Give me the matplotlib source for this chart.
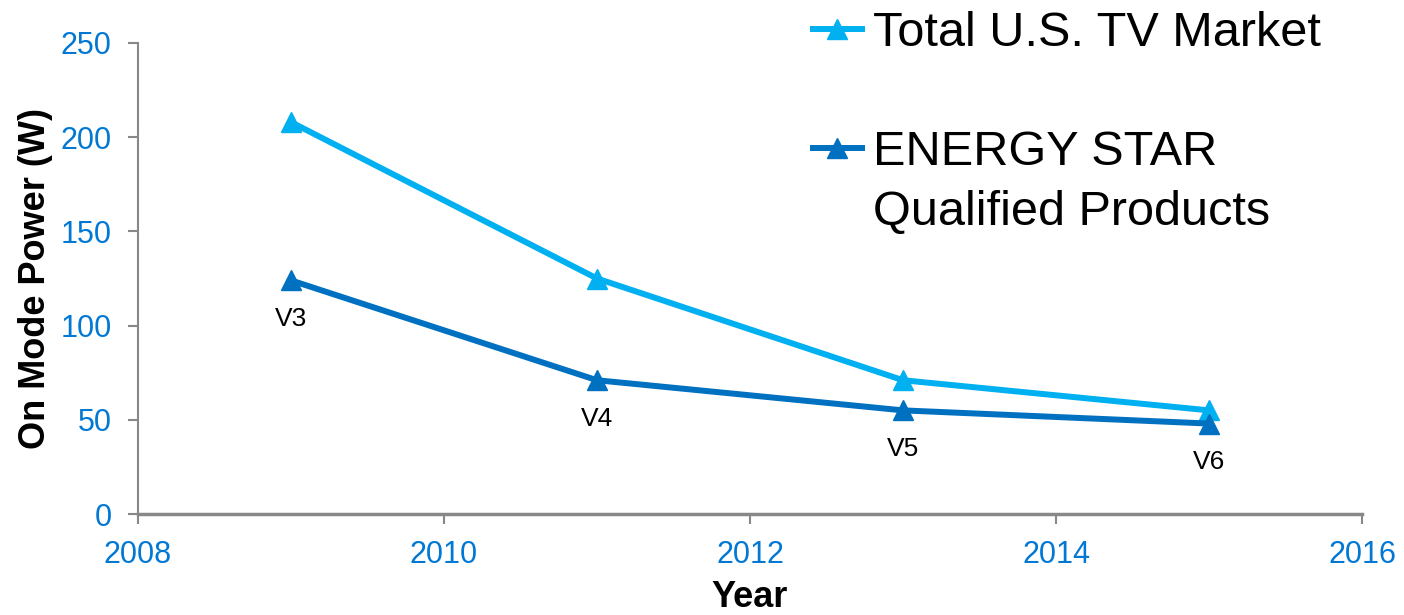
import matplotlib.pyplot as plt
from matplotlib.lines import Line2D

plt.rcParams['font.family'] = ['Liberation Sans', 'DejaVu Sans']

# data
years = [2009, 2011, 2013, 2015]
total_market = [208, 125, 71, 55]
energy_star = [124, 71, 55, 48]
spec_labels = ['V3', 'V4', 'V5', 'V6']

light_blue = '#00B0F0'
dark_blue = '#0070C0'
tick_blue = '#0078D4'

fig = plt.figure(figsize=(14.04, 6.15), dpi=100)
ax = fig.add_axes([138 / 1404, 1 - 514 / 615, (1362 - 138) / 1404, (514 - 43) / 615])

l1, = ax.plot(years, total_market, color=light_blue, linewidth=4.3,
              marker='^', markersize=14, label='Total U.S. TV Market')
l2, = ax.plot(years, energy_star, color=dark_blue, linewidth=4.3,
              marker='^', markersize=14, label='ENERGY STAR')

for x, y, s in zip(years, energy_star, spec_labels):
    ax.annotate(s, (x, y), xytext=(0, -28), textcoords='offset points',
                ha='center', va='center', fontsize=19)

ax.set_xlim(2008, 2016)
ax.set_ylim(0, 250)
ax.set_xticks(range(2008, 2017, 2))
ax.set_yticks(range(0, 251, 50))
ax.tick_params(axis='both', colors='#888888', labelcolor=tick_blue,
               labelsize=22, length=7, width=1.5, direction='out')
ax.tick_params(axis='x', pad=12)
ax.tick_params(axis='y', pad=12)

for side in ['top', 'right']:
    ax.spines[side].set_visible(False)
for side in ['left', 'bottom']:
    ax.spines[side].set_color('#888888')
    ax.spines[side].set_linewidth(1.5)
ax.spines['bottom'].set_linewidth(2.5)

ax.set_xlabel('Year', fontsize=26, fontweight='bold', labelpad=7)
ax.set_ylabel('On Mode Power (W)', fontsize=26, fontweight='bold', labelpad=5)

blank = Line2D([], [], color='none')
ax.legend([l1, blank, l2, blank],
          ['Total U.S. TV Market', ' ', 'ENERGY STAR', 'Qualified Products'],
          loc='upper left', bbox_to_anchor=(813 / 1404, 1 - 11 / 615),
          bbox_transform=fig.transFigure, frameon=False, fontsize=35,
          handlelength=1.0, handletextpad=0.23, borderpad=0,
          borderaxespad=0, labelspacing=0.3)

fig.savefig('out.png', dpi=100)
